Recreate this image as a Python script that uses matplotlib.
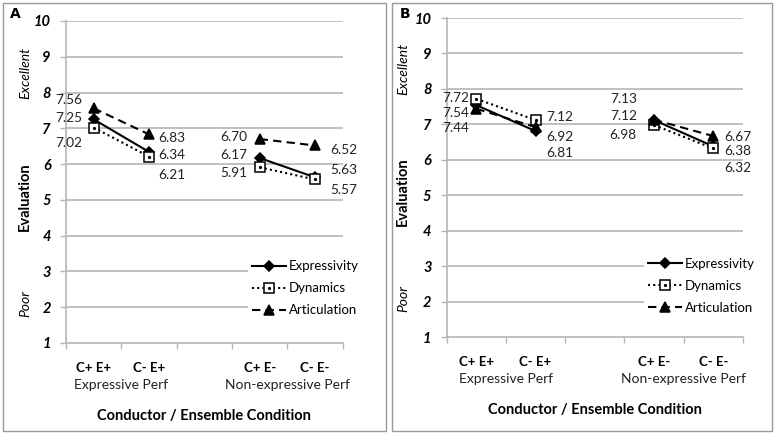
import numpy as np
import matplotlib.pyplot as plt
from matplotlib.patches import Rectangle
from matplotlib.legend_handler import HandlerTuple

plt.rcParams['font.family'] = ['Lato', 'DejaVu Sans']

# ---------------------------------------------------------------------------
# Data (slot 2 is the empty gap between the two performance groups)
# ---------------------------------------------------------------------------
categories = ["C+ E+", "C- E+", "", "C+ E-", "C- E-"]
groups = ["Expressive Perf", "Non-expressive Perf"]
series = ["Expressivity", "Dynamics", "Articulation"]

a_expressivity = [7.25, 6.34, np.nan, 6.17, 5.63]
a_dynamics = [7.02, 6.21, np.nan, 5.91, 5.57]
a_articulation = [7.56, 6.83, np.nan, 6.70, 6.52]

b_expressivity = [7.54, 6.81, np.nan, 7.12, 6.38]
b_dynamics = [7.72, 7.12, np.nan, 6.98, 6.32]
b_articulation = [7.44, 6.92, np.nan, 7.13, 6.67]

# label layout: (x offset, y positions for Expressivity, Dynamics, Articulation)
a_label_pos = {0: (-0.2, [7.29, 6.59, 7.79]), 1: (0.17, [6.26, 5.70, 6.73]),
               3: (-0.23, [6.26, 5.76, 6.76]), 4: (0.27, [5.84, 5.28, 6.40])}
b_label_pos = {0: (-0.12, [7.32, 7.74, 6.90]), 1: (0.18, [6.19, 7.21, 6.64]),
               3: (-0.29, [7.24, 6.70, 7.71]), 4: (0.19, [6.25, 5.76, 6.64])}

styles = [dict(ls='-', marker='D', ms=5, mfc='black'),
          dict(ls=(0, (1, 1.5)), marker='s', ms=6.5, mfc='white'),
          dict(ls=(0, (4, 2.5)), marker='^', ms=7, mfc='black')]

GRID = '#b5b5b5'


def draw_panel(fig, rect, data, label_pos, leg_anchor, panel_box, letter,
               xt_y, grp_y, xl_y):
    fig.add_artist(Rectangle(panel_box[:2], panel_box[2], panel_box[3],
                             transform=fig.transFigure, fill=False,
                             edgecolor='#9a9a9a', lw=1.0))
    fig.text(panel_box[0] + 0.009, panel_box[1] + panel_box[3] - 0.035, letter,
             fontsize=10, fontweight='bold', family='DejaVu Sans')

    ax = fig.add_axes(rect)
    x = np.arange(len(categories))
    handles = []
    for vals, st, name in zip(data, styles, series):
        ln, = ax.plot(x, vals, color='black', lw=1.5, ls=st['ls'],
                      marker=st['marker'], ms=st['ms'], mfc=st['mfc'],
                      mec='black', mew=1.1, zorder=3)
        if st['marker'] == 's':
            dot, = ax.plot(x, vals, ls='none', marker='o', ms=1.3,
                           color='black', zorder=4)
            handles.append((ln, dot))
        else:
            handles.append(ln)
        k = series.index(name)
        for i, (dx, ys) in label_pos.items():
            ax.text(i + dx, ys[k], f"{vals[i]:.2f}", fontsize=9.8,
                    ha='right' if dx < 0 else 'left', va='center',
                    color='#222222')

    ax.set_xlim(-0.5, 4.5)
    ax.set_ylim(1, 10)
    ax.set_yticks(range(1, 11))
    ax.set_yticklabels([str(v) for v in range(1, 11)], fontsize=10.5,
                       fontweight='bold', fontstyle='italic')
    ax.set_xticks(np.arange(-0.5, 5, 1))
    ax.set_xticklabels([])
    ax.tick_params(axis='both', colors=GRID, length=4, width=1)
    ax.tick_params(axis='y', labelcolor='black', pad=7)
    for v in range(2, 11):
        ax.axhline(v, color=GRID, lw=1.2, zorder=1)
    for s in ['top', 'right']:
        ax.spines[s].set_visible(False)
    for s in ['left', 'bottom']:
        ax.spines[s].set_color(GRID)
        ax.spines[s].set_linewidth(1.2)

    for i, c in enumerate(categories):
        ax.text(i, xt_y, c, transform=ax.get_xaxis_transform(), ha='center',
                va='center', fontsize=9.5, fontweight='bold')
    ax.text(0.5, grp_y, groups[0], transform=ax.get_xaxis_transform(),
            ha='center', va='center', fontsize=10, color='#222222')
    ax.text(3.5, grp_y, groups[1], transform=ax.get_xaxis_transform(),
            ha='center', va='center', fontsize=10, color='#222222')
    ax.text(0.5, xl_y, "Conductor / Ensemble Condition",
            transform=ax.transAxes, ha='center', va='center', fontsize=10.5,
            fontweight='bold')

    ax.text(-0.148, 8.55, "Excellent", transform=ax.get_yaxis_transform(),
            rotation=90, ha='center', va='center', fontsize=10,
            fontstyle='italic')
    ax.text(-0.148, 5.1, "Evaluation", transform=ax.get_yaxis_transform(),
            rotation=90, ha='center', va='center', fontsize=10.5,
            fontweight='bold')
    ax.text(-0.148, 2.1, "Poor", transform=ax.get_yaxis_transform(),
            rotation=90, ha='center', va='center', fontsize=10,
            fontstyle='italic')

    leg = ax.legend(handles, series, loc='center', bbox_to_anchor=leg_anchor,
                    frameon=True, framealpha=1, edgecolor='white',
                    fontsize=9.5, handlelength=2.6, handletextpad=0.2,
                    labelspacing=0.75, borderpad=0.3,
                    handler_map={tuple: HandlerTuple(ndivide=1, pad=0)})
    leg.get_frame().set_linewidth(0)
    return ax


fig = plt.figure(figsize=(7.77, 4.34), dpi=100)

draw_panel(fig, [0.085, 0.2097, 0.356, 0.742],
           [a_expressivity, a_dynamics, a_articulation], a_label_pos,
           (0.865, 0.17), [0.004, 0.007, 0.493, 0.986], "A",
           -0.078, -0.13, -0.226)
draw_panel(fig, [0.575, 0.2235, 0.381, 0.735],
           [b_expressivity, b_dynamics, b_articulation], b_label_pos,
           (0.86, 0.16), [0.505, 0.007, 0.489, 0.986], "B",
           -0.077, -0.133, -0.228)

fig.savefig("out.png", dpi=100)
